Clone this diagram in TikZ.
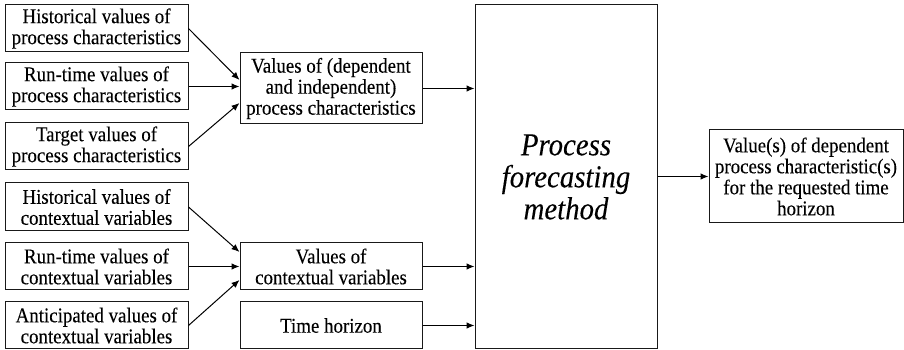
\documentclass[tikz,border=0pt]{standalone}
\usepackage{fontspec}
\setmainfont[FakeStretch=0.9,FakeBold=0.12]{Liberation Serif}
\usetikzlibrary{arrows.meta,calc}
\begin{document}
\begin{tikzpicture}[x=1pt,y=1pt,
  box/.style={draw=black!90,line width=1pt,inner sep=0pt,align=center,
    font=\fontsize{21}{21}\selectfont,text=black},
  arr/.style={draw=black,line width=1pt,-{Latex[length=8pt,width=6.5pt]}}]
\useasboundingbox (0,0) rectangle (904,350);
% left column
\node[box,minimum width=183,minimum height=47] (b1) at (96.5,321.5) {Historical values of\\process characteristics};
\node[box,minimum width=183,minimum height=47] (b2) at (96.5,263.5) {Run-time values of\\process characteristics};
\node[box,minimum width=183,minimum height=47] (b3) at (96.5,203.5) {Target values of\\process characteristics};
\node[box,minimum width=183,minimum height=48] (b4) at (96.5,143) {Historical values of\\contextual variables};
\node[box,minimum width=183,minimum height=47] (b5) at (96.5,83.5) {Run-time values of\\contextual variables};
\node[box,minimum width=183,minimum height=47] (b6) at (96.5,24.5) {Anticipated values of\\contextual variables};
% middle column
\node[box,minimum width=182,minimum height=71] (m1) at (331,261.5) {Values of (dependent\\and independent)\\process characteristics};
\node[box,minimum width=182,minimum height=47] (m2) at (331,83.5) {Values of\\contextual variables};
\node[box,minimum width=182,minimum height=47] (m3) at (331,24.5) {Time horizon};
% big box
\node[box,minimum width=182,minimum height=344,font=\fontsize{32}{32}\selectfont\itshape] (big) at (566,173) {Process\\forecasting\\method};
% output
\node[box,minimum width=194,minimum height=93] (out) at (806,173.5) {Value(s) of dependent\\process characteristic(s)\\for the requested time\\horizon};
% arrows
\draw[arr] (b1.east) -- ($(m1.west)+(0,8.5)$);
\draw[arr] (b2.east) -- (b2.east -| m1.west);
\draw[arr] (b3.east) -- ($(m1.west)+(0,-14.5)$);
\draw[arr] (b4.east) -- ($(m2.west)+(0,14.5)$);
\draw[arr] (b5.east) -- (b5.east -| m2.west);
\draw[arr] (b6.east) -- ($(m2.west)+(0,-13.5)$);
\draw[arr] (m1.east) -- (m1.east -| big.west);
\draw[arr] (m2.east) -- (m2.east -| big.west);
\draw[arr] (m3.east) -- (m3.east -| big.west);
\draw[arr] (big.east |- out.west) -- (out.west);
\end{tikzpicture}
\end{document}
